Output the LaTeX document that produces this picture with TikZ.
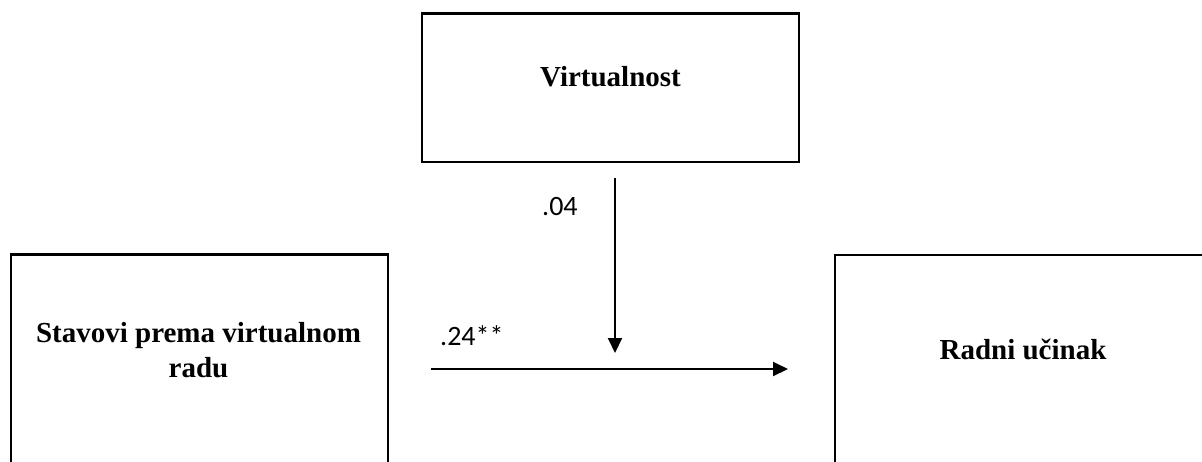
\documentclass[tikz,border=0pt]{standalone}
\usepackage{fontspec}
\setmainfont{Liberation Serif}
\newfontfamily\calibri{Carlito}
\usetikzlibrary{arrows.meta}
\begin{document}
\begin{tikzpicture}[x=1pt,y=-1pt,
  box/.style={draw=black, line width=2.5pt, inner sep=0pt, minimum width=377pt},
  boxtext/.style={font=\fontsize{29}{35}\selectfont\bfseries, align=center, inner sep=0pt, anchor=base},
  coef/.style={font=\calibri\fontsize{28}{34}\selectfont, inner sep=0pt, anchor=base west},
  arr/.style={line width=2pt, -{Triangle[length=15pt,width=14pt]}}]
\useasboundingbox (0,0) rectangle (1202,461);
\clip (0,0) rectangle (1202,461);
% boxes
\node[box, minimum height=148.5pt] (V) at (610.5,87.75) {};
\node[box, minimum height=225.5pt] (S) at (199.5,367.25) {};
\node[box, minimum height=225pt] (R) at (1023.5,367.5) {};
% box texts
\node[boxtext] (tV) at (610.5,86) {Virtualnost};
\node[boxtext] (tS) at (198.5,377) {Stavovi prema virtualnom\\radu};
\node[boxtext] (tR) at (1023,359) {Radni učinak};
% connector end points
\coordinate (a1) at (615,178);
\coordinate (a2) at (615,353);
\coordinate (b1) at (431,369);
\coordinate (b2) at (788,369);
\draw[arr] (a1) -- (a2);
\draw[arr] (b1) -- (b2);
% coefficients
\node[coef] (l04) at (542,215) {.04};
\node[coef] (l24) at (440,345) {.24**};
\end{tikzpicture}
\end{document}
